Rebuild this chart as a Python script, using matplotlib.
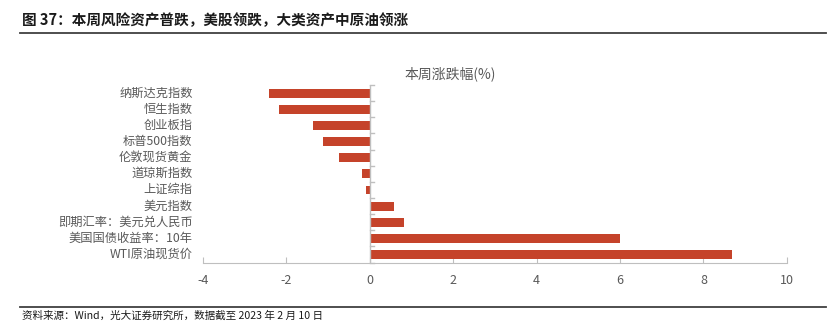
import matplotlib
matplotlib.use('Agg')
import matplotlib.pyplot as plt
import numpy as np

plt.rcParams['font.family'] = ['Noto Sans CJK SC', 'DejaVu Sans']

categories = ['纳斯达克指数', '恒生指数', '创业板指', '标普500指数', '伦敦现货黄金',
              '道琼斯指数', '上证综指', '美元指数', '即期汇率：美元兑人民币',
              '美国国债收益率：10年', 'WTI原油现货价']
changes = [-2.43, -2.19, -1.37, -1.13, -0.75, -0.18, -0.10, 0.58, 0.83, 5.99, 8.68]
xticks = [-4, -2, 0, 2, 4, 6, 8, 10]

bar_color = '#C5432A'
text_gray = '#595959'
axis_gray = '#BFBFBF'

fig = plt.figure(figsize=(8.27, 3.27), dpi=100)
ax = fig.add_axes([0.2455, 0.197, 0.706, 0.543])

y = np.arange(len(categories))
ax.barh(y, changes, height=0.55, color=bar_color, zorder=3)
ax.set_ylim(len(categories) - 0.5, -0.5)
ax.set_xlim(-4, 10)

ax.set_xticks(xticks)
ax.set_xticklabels([str(t) for t in xticks], color=text_gray, fontsize=9)
ax.tick_params(axis='x', direction='in', length=4, color=axis_gray, pad=8)

# category labels sit at the figure's left edge, right aligned before the axes
ax.set_yticks([])
for yi, name in zip(y, categories):
    ax.text(-4.25, yi, name, ha='right', va='center', fontsize=8.8, color=text_gray)

# y spine at x=0 with short ticks between categories
for s in ['top', 'right', 'left']:
    ax.spines[s].set_visible(False)
ax.spines['bottom'].set_color(axis_gray)
ax.plot([0, 0], [-0.5, len(categories) - 0.5], color=axis_gray, lw=1, zorder=4)
for b in np.arange(-0.5, len(categories), 1.0):
    ax.plot([0, 0.1], [b, b], color=axis_gray, lw=1, zorder=4, clip_on=False)

ax.text(1.92, -1.2, '本周涨跌幅(%)', ha='center', va='center', fontsize=10, color=text_gray)

fig.text(0.027, 0.938, '图 37：本周风险资产普跌，美股领跌，大类资产中原油领涨',
         fontsize=10.5, fontweight='bold', color='#1a1a1a', ha='left', va='center')
fig.add_artist(plt.Line2D([0.024, 0.999], [0.899, 0.899], color='#404040', lw=1.3))
fig.add_artist(plt.Line2D([0.024, 0.999], [0.061, 0.061], color='#404040', lw=1.3))
fig.text(0.027, 0.035, '资料来源：Wind，光大证券研究所，数据截至 2023 年 2 月 10 日',
         fontsize=7.6, color='#1a1a1a', ha='left', va='center')

fig.savefig('out.png', dpi=100)
